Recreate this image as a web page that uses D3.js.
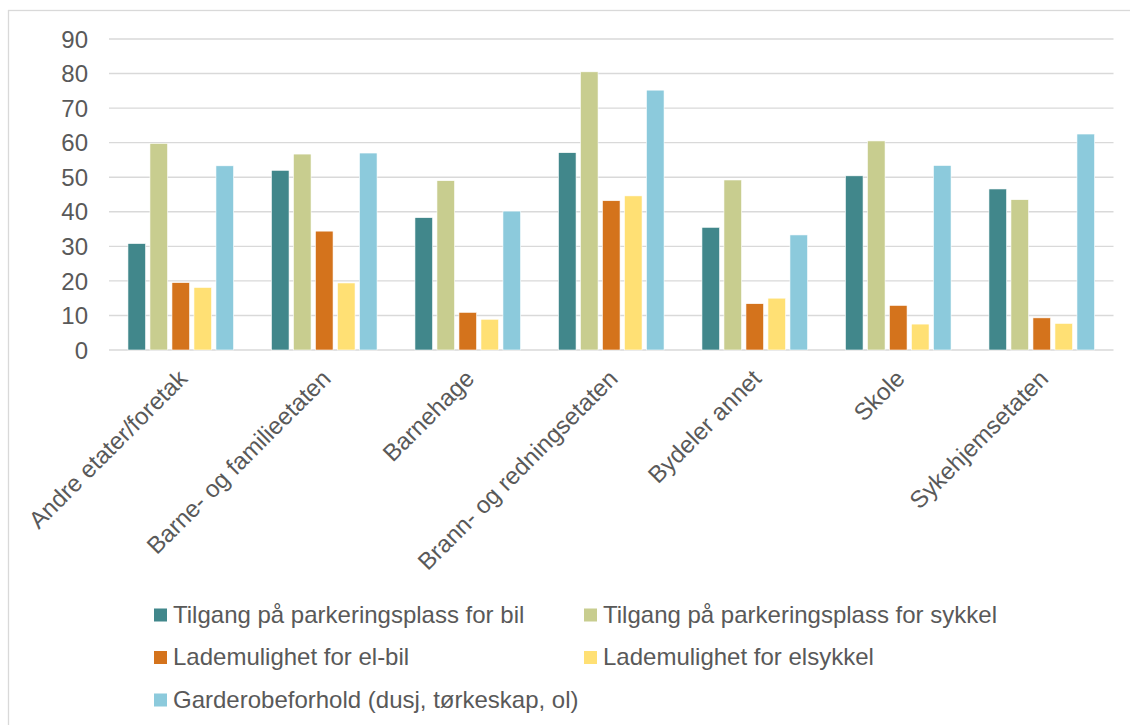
<!DOCTYPE html>
<html>
<head>
<meta charset="utf-8">
<script src="https://cdn.jsdelivr.net/npm/d3@7"></script>
<style>
  html, body { margin: 0; padding: 0; background: #fff; }
  svg { display: block; font-family: "Liberation Sans", Arial, sans-serif; }
</style>
</head>
<body>
<svg id="chart" width="1130" height="725"></svg>
<script>
const categories = ["Andre etater/foretak", "Barne- og familieetaten", "Barnehage", "Brann- og redningsetaten", "Bydeler annet", "Skole", "Sykehjemsetaten"];
const seriesNames = ["Tilgang på parkeringsplass for bil", "Tilgang på parkeringsplass for sykkel", "Lademulighet for el-bil", "Lademulighet for elsykkel", "Garderobeforhold (dusj, tørkeskap, ol)"];
const seriesColors = ["#41878b", "#c8cd8f", "#d4731c", "#ffe074", "#8ccadc"];
const parkeringBil = [30.8, 52.0, 38.3, 57.1, 35.5, 50.4, 46.6];
const parkeringSykkel = [59.8, 56.7, 49.0, 80.5, 49.2, 60.5, 43.5];
const ladeElbil = [19.5, 34.4, 10.9, 43.2, 13.4, 12.9, 9.3];
const ladeElsykkel = [18.1, 19.4, 8.9, 44.6, 15.0, 7.5, 7.7];
const garderobe = [53.3, 57.0, 40.2, 75.2, 33.3, 53.4, 62.5];
const yTicks = [0, 10, 20, 30, 40, 50, 60, 70, 80, 90];

const seriesValues = [parkeringBil, parkeringSykkel, ladeElbil, ladeElsykkel, garderobe];

const svg = d3.select("#chart");
const textColor = "#595959";
const gridColor = "#d9d9d9";
const fontSize = 24;

// frame
svg.append("rect").attr("x", 8.5).attr("y", 10.5).attr("width", 1140).attr("height", 740)
  .attr("fill", "none").attr("stroke", gridColor).attr("stroke-width", 1.3);

const plot = { left: 109, right: 1113.5, top: 39, bottom: 350 };

const x0 = d3.scaleBand().domain(categories).range([plot.left, plot.right]).padding(0);
const x1 = d3.scaleBand().domain(seriesNames).range([-52.8, 52.8]).paddingInner(0.2).paddingOuter(0);
const y = d3.scaleLinear().domain([0, 90]).range([plot.bottom, plot.top]);

// gridlines
svg.append("g").selectAll("line").data(yTicks).join("line")
  .attr("x1", plot.left).attr("x2", plot.right)
  .attr("y1", d => y(d)).attr("y2", d => y(d))
  .attr("stroke", gridColor).attr("stroke-width", 1.4);

// y tick labels
svg.append("g").selectAll("text").data(yTicks).join("text")
  .attr("x", 88).attr("y", d => y(d)).attr("dy", "0.36em")
  .attr("text-anchor", "end").attr("fill", textColor).attr("font-size", fontSize)
  .text(d => d);

// bars
const groups = svg.append("g").selectAll("g").data(categories).join("g")
  .attr("transform", c => `translate(${x0(c) + x0.bandwidth() / 2},0)`);

groups.selectAll("rect").data((c, i) => seriesNames.map((s, j) => ({ s, j, v: seriesValues[j][i] })))
  .join("rect")
  .attr("x", d => x1(d.s))
  .attr("width", x1.bandwidth())
  .attr("y", d => y(d.v))
  .attr("height", d => y(0) - y(d.v))
  .attr("fill", d => seriesColors[d.j])
  .attr("stroke", "#ffffff").attr("stroke-width", 0.6);

// x labels
svg.append("g").selectAll("text").data(categories).join("text")
  .attr("transform", c => `translate(${x0(c) + x0.bandwidth() / 2 + 8},380) rotate(-45)`)
  .attr("text-anchor", "end").attr("fill", textColor).attr("font-size", fontSize)
  .text(c => c);

// legend
const legendPos = [
  { x: 154, y: 615 }, { x: 584, y: 615 },
  { x: 154, y: 657.5 }, { x: 584, y: 657.5 },
  { x: 154, y: 700 }
];
const legend = svg.append("g").selectAll("g").data(seriesNames).join("g")
  .attr("transform", (d, i) => `translate(${legendPos[i].x},${legendPos[i].y})`);
legend.append("rect").attr("x", 0).attr("y", -6.5).attr("width", 13).attr("height", 13)
  .attr("fill", (d, i) => seriesColors[i]);
legend.append("text").attr("x", 19).attr("y", 7.5)
  .attr("fill", textColor).attr("font-size", fontSize)
  .text(d => d);
</script>
</body>
</html>
